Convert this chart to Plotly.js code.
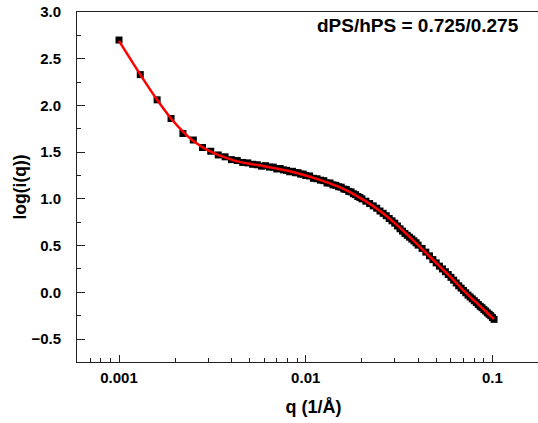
<!DOCTYPE html>
<html>
<head>
<meta charset="utf-8">
<script src="https://cdn.plot.ly/plotly-3.0.1.min.js"></script>
<style>
html,body{margin:0;padding:0;overflow:hidden;background:#fff;}
#chart{width:560px;height:423px;}
</style>
</head>
<body>
<div id="chart"></div>
<script>
// Measured data (q in 1/Å, log intensity)
const qData = [
  0.001, 0.0013, 0.0016, 0.0019, 0.0022, 0.0025, 0.0028, 0.0031, 0.0034, 0.0037,
  0.004, 0.0043, 0.0046, 0.0049, 0.0052, 0.0055, 0.0058, 0.0061, 0.0064, 0.0067,
  0.007, 0.0073, 0.0076, 0.0079, 0.0082, 0.0085, 0.0088, 0.0091, 0.0094, 0.0097,
  0.01, 0.0105, 0.011, 0.0115, 0.012, 0.0125, 0.013, 0.0135, 0.014, 0.0145,
  0.015, 0.0155, 0.016, 0.0165, 0.017, 0.0175, 0.018, 0.0185, 0.019, 0.0195,
  0.02, 0.021, 0.022, 0.023, 0.024, 0.025, 0.026, 0.027, 0.028, 0.029,
  0.03, 0.031, 0.032, 0.033, 0.034, 0.035, 0.036, 0.037, 0.038, 0.039,
  0.04, 0.042, 0.044, 0.046, 0.048, 0.05, 0.052, 0.054, 0.056, 0.058,
  0.06, 0.062, 0.064, 0.066, 0.068, 0.07, 0.072, 0.074, 0.076, 0.078,
  0.08, 0.082, 0.084, 0.086, 0.088, 0.09, 0.092, 0.094, 0.096, 0.098,
  0.1, 0.102
];
const logIData = [
  2.70, 2.33, 2.06, 1.86, 1.70, 1.63, 1.55, 1.51, 1.47, 1.45,
  1.42, 1.41, 1.39, 1.385, 1.37, 1.365, 1.35, 1.355, 1.34, 1.34,
  1.32, 1.325, 1.31, 1.305, 1.29, 1.295, 1.28, 1.28, 1.265, 1.265,
  1.25, 1.245, 1.22, 1.215, 1.20, 1.195, 1.17, 1.17, 1.15, 1.145,
  1.13, 1.125, 1.105, 1.10, 1.08, 1.075, 1.055, 1.045, 1.025, 1.015,
  1.00, 0.975, 0.95, 0.925, 0.90, 0.87, 0.845, 0.82, 0.79, 0.765,
  0.74, 0.71, 0.68, 0.655, 0.63, 0.61, 0.59, 0.57, 0.55, 0.53,
  0.505, 0.47, 0.43, 0.39, 0.35, 0.315, 0.28, 0.25, 0.22, 0.19,
  0.16, 0.13, 0.10, 0.07, 0.045, 0.02, -0.005, -0.03, -0.05, -0.07,
  -0.09, -0.11, -0.13, -0.15, -0.165, -0.185, -0.20, -0.22, -0.235, -0.25,
  -0.27, -0.29
];
// Fitted model curve
const qFit = [0.001, 0.0013, 0.0016, 0.0019, 0.0022, 0.0025, 0.003, 0.004, 0.005, 0.006,
  0.008, 0.01, 0.012, 0.015, 0.02, 0.025, 0.03, 0.04, 0.05, 0.06,
  0.07, 0.08, 0.09, 0.1, 0.102];
const logIFit = [2.69, 2.33, 2.06, 1.86, 1.72, 1.62, 1.52, 1.42, 1.375, 1.35,
  1.30, 1.25, 1.20, 1.13, 1.00, 0.87, 0.74, 0.505, 0.315, 0.16,
  0.02, -0.09, -0.185, -0.27, -0.285];
const xTickVals = [0.001, 0.01, 0.1];
const xTickText = ['0.001', '0.01', '0.1'];
const annotationText = 'dPS/hPS = 0.725/0.275';

const font = 'Liberation Sans, Arial, sans-serif';

const traces = [
  {
    x: qData, y: logIData, type: 'scatter', mode: 'markers',
    marker: {symbol: 'square', size: 7, color: '#000'},
    hoverinfo: 'skip', showlegend: false
  },
  {
    x: qFit, y: logIFit, type: 'scatter', mode: 'lines',
    line: {color: '#ff0000', width: 2.5, shape: 'spline', smoothing: 1},
    hoverinfo: 'skip', showlegend: false
  }
];

const layout = {
  width: 560, height: 423,
  margin: {l: 77, r: 10, t: 12, b: 61},
  paper_bgcolor: '#fff', plot_bgcolor: '#fff',
  font: {family: font, color: '#000'},
  xaxis: {
    type: 'log', range: [-3.225, -0.6915],
    tickvals: xTickVals, ticktext: xTickText,
    ticks: 'inside', ticklen: 7, tickwidth: 1, tickcolor: '#222',
    minor: {dtick: 'D1', ticks: 'inside', ticklen: 4, tickwidth: 1, tickcolor: '#222', showgrid: false},
    showline: true, linecolor: '#222', linewidth: 1, mirror: true,
    showgrid: false, zeroline: false,
    tickfont: {size: 15, weight: 'bold', family: font},
    ticklabelstandoff: 2,
    title: {text: 'q (1/Å)', font: {size: 18, weight: 'bold', family: font}, standoff: 15}
  },
  yaxis: {
    range: [-0.746, 3.0],
    dtick: 0.5, tick0: 0, tickformat: '.1f',
    ticks: 'inside', ticklen: 8, tickwidth: 1, tickcolor: '#222',
    minor: {dtick: 0.25, tick0: 0, ticks: 'inside', ticklen: 4, tickwidth: 1, tickcolor: '#222', showgrid: false},
    showline: true, linecolor: '#222', linewidth: 1, mirror: true,
    showgrid: false, zeroline: false,
    tickfont: {size: 15, weight: 'bold', family: font},
    ticklabelstandoff: 12,
    title: {text: 'log(i(q))', font: {size: 17.5, weight: 'bold', family: font}, standoff: 0}
  },
  annotations: [{
    text: annotationText, xref: 'paper', yref: 'paper',
    x: 0.72, y: 0.962, xanchor: 'center', yanchor: 'middle', showarrow: false,
    font: {size: 19, weight: 'bold', family: font}
  }]
};

Plotly.newPlot('chart', traces, layout, {displayModeBar: false, staticPlot: true});
</script>
</body>
</html>
